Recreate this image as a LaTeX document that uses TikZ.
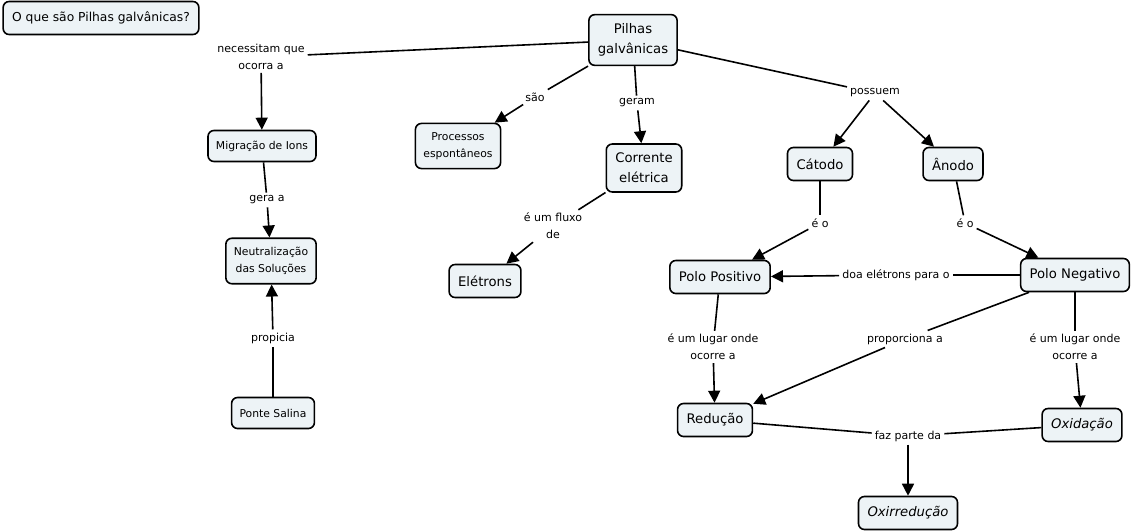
\documentclass[tikz,border=0pt]{standalone}
\usepackage{fontspec}
\setmainfont{DejaVu Sans}
\usetikzlibrary{arrows.meta, positioning}
\definecolor{cfill}{RGB}{237,243,246}
\newcommand{\bigtext}{\fontsize{13.2}{20}\selectfont}
\newcommand{\titletext}{\fontsize{12.3}{20}\selectfont}
\newcommand{\smalltext}{\fontsize{10.8}{17}\selectfont}
\newcommand{\phrasetext}{\fontsize{11}{17}\selectfont}
\tikzstyle{concept} = [draw, line width=1.6pt, rounded corners=6pt, fill=cfill, inner xsep=9pt, inner ysep=9pt, minimum height=33pt, align=center, font=\bigtext]
\tikzstyle{sconcept} = [concept, font=\smalltext, inner xsep=8pt, inner ysep=9pt, minimum height=31pt]
\tikzstyle{phrase} = [inner sep=3pt, align=center, font=\phrasetext]
\tikzstyle{line} = [draw, line width=1.6pt]
\tikzstyle{arrow} = [line, -{Triangle[length=12pt,width=12pt]}]

\begin{document}
\begin{tikzpicture}[x=1pt, y=-1pt]
			\useasboundingbox (0,0) rectangle (1131,532);
			% conceitos
			\node [concept, font=\titletext] (title) at (101, 18) {O que são Pilhas galvânicas?};
			\node [concept] (pilhas) at (633, 40) {Pilhas\\galvânicas};
			\node [sconcept] (migracao) at (262, 146) {Migração de Ions};
			\node [sconcept] (processos) at (458, 146) {Processos\\espontâneos};
			\node [concept] (corrente) at (644, 168) {Corrente\\elétrica};
			\node [concept] (catodo) at (820, 164) {Cátodo};
			\node [concept] (anodo) at (953, 164) {Ânodo};
			\node [sconcept] (neutral) at (271, 261) {Neutralização\\das Soluções};
			\node [concept] (eletrons) at (485, 281) {Elétrons};
			\node [concept] (ppositivo) at (720, 277) {Polo Positivo};
			\node [concept] (pnegativo) at (1075, 275) {Polo Negativo};
			\node [sconcept] (ponte) at (273, 413) {Ponte Salina};
			\node [concept] (reducao) at (715, 420) {Redução};
			\node [concept] (oxidacao) at (1082, 425) {\itshape Oxidação};
			\node [concept] (oxirred) at (908, 513) {\itshape Oxirredução};

			% frases de ligação
			\node [phrase] (necessitam) at (261, 57) {necessitam que\\ocorra a};
			\node [phrase] (sao) at (535, 97) {são};
			\node [phrase] (geram) at (637, 103) {geram};
			\node [phrase] (possuem) at (875, 93) {possuem};
			\node [phrase] (geraa) at (267, 200) {gera a};
			\node [phrase] (fluxo) at (553, 226) {é um fluxo\\de};
			\node [phrase] (eoc) at (820, 223) {é o};
			\node [phrase] (eoa) at (965, 223) {é o};
			\node [phrase] (doa) at (896, 275) {doa elétrons para o};
			\node [phrase] (lugarp) at (713, 347) {é um lugar onde\\ocorre a};
			\node [phrase] (proporciona) at (905, 339) {proporciona a};
			\node [phrase] (lugarn) at (1075, 347) {é um lugar onde\\ocorre a};
			\node [phrase] (propicia) at (273, 338) {propicia};
			\node [phrase] (fazparte) at (908, 436) {faz parte da};

			% ligações
			\path [line] (pilhas) -- (necessitam);
			\path [arrow] (necessitam) -- (migracao);
			\path [line] (pilhas) -- (sao);
			\path [arrow] (sao) -- (processos);
			\path [line] (pilhas) -- (geram);
			\path [arrow] (geram) -- (corrente);
			\path [line] (pilhas) -- (possuem);
			\path [arrow] (possuem) -- (catodo);
			\path [arrow] (possuem) -- (anodo);
			\path [line] (migracao) -- (geraa);
			\path [arrow] (geraa) -- (neutral);
			\path [line] (ponte) -- (propicia);
			\path [arrow] (propicia) -- (neutral);
			\path [line] (corrente) -- (fluxo);
			\path [arrow] (fluxo) -- (eletrons);
			\path [line] (catodo) -- (eoc);
			\path [arrow] (eoc) -- (ppositivo);
			\path [line] (anodo) -- (eoa);
			\path [arrow] (eoa) -- (pnegativo);
			\path [line] (pnegativo) -- (doa);
			\path [arrow] (doa) -- (ppositivo);
			\path [line] (ppositivo) -- (lugarp);
			\path [arrow] (lugarp) -- (reducao);
			\path [line] (pnegativo) -- (proporciona);
			\path [arrow] (proporciona) -- (reducao);
			\path [line] (pnegativo) -- (lugarn);
			\path [arrow] (lugarn) -- (oxidacao);
			\path [line] (reducao) -- (fazparte);
			\path [line] (oxidacao) -- (fazparte);
			\path [arrow] (fazparte) -- (oxirred);
		\end{tikzpicture}
\end{document}
